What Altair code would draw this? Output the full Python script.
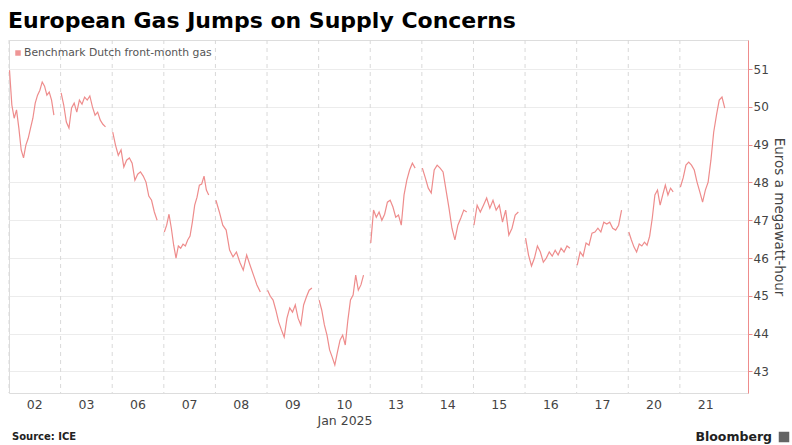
import altair as alt
import pandas as pd

DAYS = ["02", "03", "06", "07", "08", "09", "10", "13", "14", "15", "16", "17", "20", "21"]

# Benchmark Dutch front-month gas, EUR/MWh, intraday readings per trading day
D02 = [50.97, 50.05, 49.70, 49.92, 49.44, 48.86, 48.65, 48.99, 49.17, 49.44, 49.70, 50.10,
       50.31, 50.44, 50.66, 50.55, 50.31, 50.39, 50.18, 49.78]
D03 = [50.37, 50.05, 49.60, 49.44, 49.97, 50.10, 49.86, 50.18, 50.07, 50.26, 50.18, 50.29,
       50.00, 49.78, 49.86, 49.65, 49.54, 49.47]
D06 = [49.33, 48.99, 48.72, 48.86, 48.41, 48.59, 48.65, 48.51, 48.06, 48.22, 48.28, 48.17,
       48.01, 47.64, 47.53, 47.22, 47.00]
D07 = [46.69, 46.87, 47.16, 46.79, 46.34, 46.00, 46.32, 46.26, 46.37, 46.32, 46.48, 46.58,
       46.95, 47.40, 47.61, 47.93, 47.96, 48.17, 47.80, 47.67]
D08 = [47.53, 47.22, 46.87, 46.74, 46.21, 46.03, 46.16, 45.89, 45.68, 46.08, 45.81, 45.55,
       45.29, 45.10]
D09 = [45.15, 44.99, 44.89, 44.62, 44.31, 44.10, 43.91, 44.41, 44.68, 44.57, 44.76, 44.41,
       44.23, 44.76, 44.97, 45.15, 45.21]
D10 = [44.89, 44.62, 44.23, 43.96, 43.57, 43.38, 43.17, 43.51, 43.83, 43.96, 43.70, 44.36,
       44.89, 45.02, 45.55, 45.15, 45.29, 45.55]
D13 = [46.40, 47.27, 47.08, 47.22, 47.00, 47.16, 47.48, 47.53, 47.35, 47.08, 47.14, 46.87,
       47.67, 48.06, 48.33, 48.51, 48.38]
D14 = [48.38, 48.12, 47.85, 47.72, 48.33, 48.46, 48.38, 48.28, 47.80, 47.32, 46.79, 46.48,
       46.87, 47.06, 47.27, 47.22]
D15 = [46.87, 47.40, 47.22, 47.40, 47.59, 47.32, 47.53, 47.27, 47.40, 46.95, 47.27, 46.61,
       46.79, 47.14, 47.22]
D16 = [46.53, 46.08, 45.79, 46.00, 46.32, 46.16, 45.89, 46.00, 46.16, 46.05, 46.21, 46.08,
       46.26, 46.16, 46.32, 46.26]
D17 = [45.81, 46.16, 46.05, 46.40, 46.34, 46.66, 46.69, 46.79, 46.69, 46.95, 46.90, 46.95,
       46.79, 46.74, 46.87, 47.27]
D20 = [46.69, 46.48, 46.29, 46.16, 46.37, 46.32, 46.42, 46.34, 46.58, 47.06, 47.67, 47.80,
       47.40, 47.67, 47.93, 47.67, 47.85, 47.75]
D21 = [47.88, 48.12, 48.46, 48.54, 48.46, 48.33, 48.01, 47.75, 47.48, 47.80, 48.01, 48.59,
       49.33, 49.78, 50.18, 50.26, 49.97]

SERIES = [D02, D03, D06, D07, D08, D09, D10, D13, D14, D15, D16, D17, D20, D21]
Y_TICKS = [43, 44, 45, 46, 47, 48, 49, 50, 51]

rows = []
for k, vals in enumerate(SERIES):
    n = len(vals)
    for i, v in enumerate(vals):
        rows.append({"t": k + 0.01 + 0.86 * i / (n - 1), "price": v, "day": DAYS[k]})
df = pd.DataFrame(rows)

bounds = pd.DataFrame({"b": list(range(len(DAYS)))})
day_labels = pd.DataFrame({"c": [k + 0.5 for k in range(len(DAYS))], "lab": DAYS})

FONT = "DejaVu Sans"
RED = "#ee8c8c"

x_scale = alt.Scale(domain=[0, 14.32], nice=False, zero=False)
y_scale = alt.Scale(domain=[42.43, 51.77], nice=False, zero=False)

vgrid = alt.Chart(bounds).mark_rule(color="#d9d9d9", strokeDash=[4, 4], strokeWidth=1).encode(
    x=alt.X("b:Q", scale=x_scale, axis=None)
)

line = alt.Chart(df).mark_line(color=RED, strokeWidth=1.2, interpolate="linear").encode(
    x=alt.X("t:Q", scale=x_scale, axis=None),
    y=alt.Y(
        "price:Q",
        scale=y_scale,
        axis=alt.Axis(
            orient="right",
            values=Y_TICKS,
            title="Euros a megawatt-hour",
            titleFont=FONT,
            titleFontSize=13.5,
            titleFontWeight="normal",
            titleColor="#444",
            titlePadding=3,
            labelFont=FONT,
            labelFontSize=12,
            labelColor="#444",
            labelPadding=1,
            tickColor=RED,
            tickSize=4,
            domainColor=RED,
            gridColor="#ececec",
            grid=True,
        ),
    ),
    detail="day:N",
)

xlabels = alt.Chart(day_labels).mark_text(
    align="center", baseline="middle", font=FONT, fontSize=12.5, color="#444"
).encode(
    x=alt.X("c:Q", scale=x_scale, axis=None),
    y=alt.value(365),
    text="lab:N",
)

one = pd.DataFrame({"a": [0]})

jan = alt.Chart(one).mark_text(
    text="Jan 2025", align="center", baseline="middle",
    font=FONT, fontSize=12.5, color="#444"
).encode(x=alt.value(336), y=alt.value(381))

legend_sq = alt.Chart(one).mark_square(color="#e86a6a", size=30).encode(
    x=alt.value(9), y=alt.value(13)
)
legend_txt = alt.Chart(one).mark_text(
    text="Benchmark Dutch front-month gas", align="left", baseline="middle",
    font=FONT, fontSize=10.8, color="#555"
).encode(x=alt.value(15), y=alt.value(13))

source = alt.Chart(one).mark_text(
    text="Source: ICE", align="left", baseline="middle",
    font=FONT, fontSize=10, fontWeight="bold", color="#222"
).encode(x=alt.value(3), y=alt.value(397))

brand = alt.Chart(one).mark_text(
    text="Bloomberg", align="right", baseline="middle",
    font=FONT, fontSize=12.5, fontWeight="bold", color="#222"
).encode(x=alt.value(763), y=alt.value(397))

logo = alt.Chart(one).mark_square(color="#222", size=110, shape="square").encode(
    x=alt.value(775), y=alt.value(397)
)

chart = alt.layer(vgrid, line, xlabels, jan, legend_sq, legend_txt, source, brand, logo).properties(
    width=739,
    height=353,
    autosize=alt.AutoSizeParams(type="none"),
    padding={"left": 9, "top": 40, "right": 44, "bottom": 52},
    title=alt.TitleParams(
        "European Gas Jumps on Supply Concerns",
        anchor="start",
        frame="group",
        font=FONT,
        fontSize=22,
        fontWeight="bold",
        color="#000",
        offset=7,
        dx=-1,
    ),
).configure_view(stroke=None).configure(background="white")

chart.save("out.html", embed_options={"renderer": "svg", "actions": False})
